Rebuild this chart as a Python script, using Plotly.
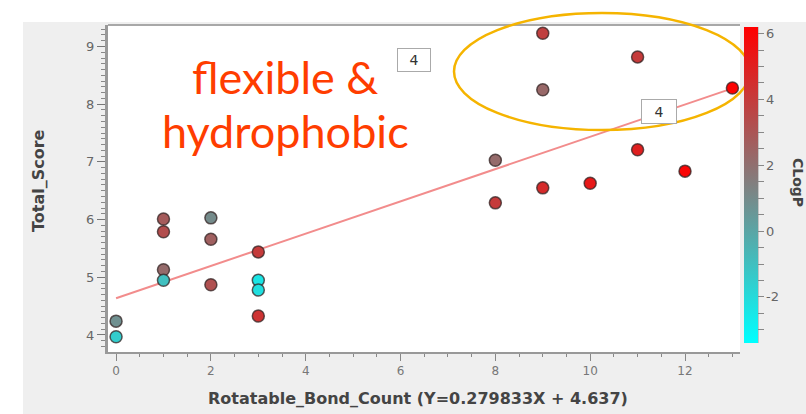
import plotly.graph_objects as go

# ---- data ----
rot_bonds = [0, 0, 1, 1, 1, 1, 2, 2, 2, 3, 3, 3, 3, 8, 8, 9, 9, 9, 10, 11, 11, 12, 13]
total_score = [4.24, 3.97, 6.01, 5.79, 5.13, 4.95, 6.03, 5.66, 4.87, 5.44, 4.95, 4.78, 4.33,
               7.03, 6.29, 9.23, 8.25, 6.55, 6.63, 8.82, 7.21, 6.84, 8.28]
clogp = [0.8, -1.5, 2.8, 3.3, 2.2, -1.0, 1.0, 2.6, 3.2, 4.0, -2.4, -2.2, 4.3,
         2.2, 4.0, 3.8, 2.3, 4.6, 5.3, 4.0, 5.0, 6.0, 6.1]
fit_slope = 0.279833
fit_intercept = 4.637
fit_x = [0, 13]
fit_y = [fit_slope * v + fit_intercept for v in fit_x]

x_ticks = [0, 2, 4, 6, 8, 10, 12]
y_ticks = [4, 5, 6, 7, 8, 9]
cb_tickvals = [v / 2 for v in range(-6, 13)]
cb_ticktext = [str(int(v)) if v == int(v) and int(v) % 2 == 0 else "" for v in cb_tickvals]

W, H = 806, 414
L, R, T, B = 108, 740, 25, 352


def px(xp):
    return (xp - L) / (R - L)


def py(yp):
    return (B - yp) / (B - T)


fig = go.Figure()

fig.add_trace(go.Scatter(
    x=fit_x, y=fit_y, mode="lines",
    line=dict(color="rgba(240,120,120,0.85)", width=2),
    hoverinfo="skip", showlegend=False,
))

fig.add_trace(go.Scatter(
    x=rot_bonds, y=total_score, mode="markers",
    marker=dict(
        size=12, color=clogp, cmin=-3.4, cmax=6.2,
        colorscale=[[0, "#00ffff"], [0.5, "#808080"], [1, "#ff0000"]],
        line=dict(color="rgba(50,35,35,0.75)", width=1.5),
        colorbar=dict(
            x=px(744), xanchor="left", xpad=0, ypad=0,
            y=py(185), yanchor="middle", len=(343 - 27) / (B - T), lenmode="fraction",
            thickness=14, thicknessmode="pixels",
            outlinewidth=0,
            tickmode="array", tickvals=cb_tickvals, ticktext=cb_ticktext,
            ticks="outside", ticklen=6, tickcolor="#888", tickwidth=1,
            tickfont=dict(family="DejaVu Sans", size=13, color="#666"),
        ),
    ),
    showlegend=False,
))

shapes = [
    # white strips around the grey panel
    dict(type="rect", xref="paper", yref="paper", x0=px(0), x1=px(W), y0=py(22), y1=py(0),
         fillcolor="white", line=dict(width=0), layer="below"),
    dict(type="rect", xref="paper", yref="paper", x0=px(0), x1=px(23), y0=py(H), y1=py(0),
         fillcolor="white", line=dict(width=0), layer="below"),
    # top border of plot
    dict(type="line", xref="paper", yref="paper", x0=0, x1=1, y0=1, y1=1,
         line=dict(color="#a8a8a8", width=2)),
    # colorbar axis line
    dict(type="line", xref="paper", yref="paper", x0=px(758), x1=px(758), y0=py(343), y1=py(27),
         line=dict(color="#999", width=1)),
    # highlight ellipse
    dict(type="circle", xref="paper", yref="paper", x0=px(454), x1=px(750), y0=py(130), y1=py(13),
         line=dict(color="#f5b400", width=2.5), layer="above"),
]

C = dict(xanchor="center", yanchor="middle", showarrow=False, xref="paper", yref="paper")
annotations = [
    dict(text="flexible &", x=px(285), y=py(77),
         font=dict(family="Lato", size=45, color="#ff3d00"), **C),
    dict(text="hydrophobic", x=px(285), y=py(131),
         font=dict(family="Lato", size=45, color="#ff3d00"), **C),
    dict(text="4", x=px(414), y=py(60),
         font=dict(family="DejaVu Sans", size=14, color="#333"),
         bordercolor="#aaa", borderwidth=1, borderpad=2, bgcolor="white", width=28, height=18, **C),
    dict(text="4", x=px(659), y=py(112),
         font=dict(family="DejaVu Sans", size=14, color="#333"),
         bordercolor="#aaa", borderwidth=1, borderpad=2, bgcolor="white", width=30, height=19, **C),
    dict(text="<b>Rotatable_Bond_Count (Y=0.279833X + 4.637)</b>", x=px(418), y=py(398),
         font=dict(family="DejaVu Sans", size=16, color="#444"), **C),
    dict(text="<b>Total_Score</b>", x=px(38), y=py(181), textangle=-90,
         font=dict(family="DejaVu Sans", size=16, color="#444"), **C),
    dict(text="<b>CLogP</b>", x=px(798), y=py(182), textangle=90,
         font=dict(family="DejaVu Sans", size=14, color="#444"), **C),
]

fig.update_layout(
    width=W, height=H,
    margin=dict(l=L, r=W - R, t=T, b=H - B, pad=0),
    paper_bgcolor="#efefef", plot_bgcolor="white",
    shapes=shapes, annotations=annotations,
    xaxis=dict(
        range=[-0.17, 13.16], showgrid=False, zeroline=False,
        showline=True, linecolor="#999", linewidth=2,
        tickmode="array", tickvals=x_ticks,
        ticks="outside", ticklen=7, tickcolor="#888", tickwidth=1,
        tickfont=dict(family="DejaVu Sans", size=12, color="#777"),
        minor=dict(dtick=0.5, ticks="outside", ticklen=3, tickcolor="#888", showgrid=False),
    ),
    yaxis=dict(
        range=[3.705, 9.373], showgrid=False, zeroline=False,
        showline=True, linecolor="#999", linewidth=3,
        tickmode="array", tickvals=y_ticks,
        ticks="outside", ticklen=8, tickcolor="#777", tickwidth=1,
        tickfont=dict(family="DejaVu Sans", size=13, color="#666"),
        minor=dict(dtick=0.1, ticks="outside", ticklen=4, tickcolor="#888", showgrid=False),
    ),
)

fig.write_html("out.html")
